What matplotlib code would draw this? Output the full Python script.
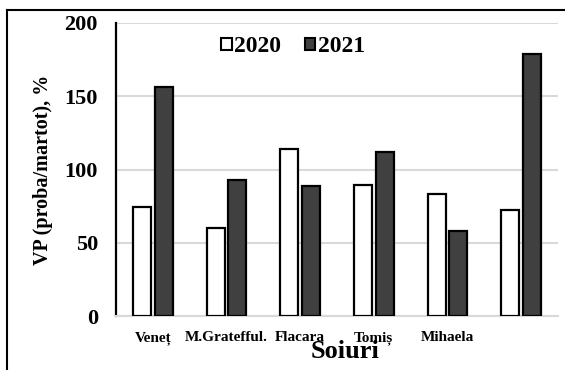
import matplotlib
matplotlib.use("Agg")
import matplotlib.pyplot as plt
import numpy as np
from matplotlib.lines import Line2D

plt.rcParams['font.family'] = ['Liberation Serif', 'DejaVu Serif']
plt.rcParams['font.weight'] = 'bold'

soiuri = ['Veneț', 'M.Gratefful.', 'Flacara', 'Tomiș', 'Mihaela', '']
vp_2020 = [74.5, 60, 113.8, 89.3, 83.3, 72.4]
vp_2021 = [156, 93, 88.5, 111.7, 58, 178.5]
ani = ['2020', '2021']

W, H = 565, 370
fig = plt.figure(figsize=(W / 100, H / 100), dpi=100)
ax = fig.add_axes([116 / W, 1 - 316 / H, 442 / W, 293 / H])

x = np.arange(len(soiuri))
bw = 0.245
off = 0.146
ax.bar(x - off, vp_2020, bw, color='white', edgecolor='black', linewidth=1.6, label=ani[0], zorder=3)
ax.bar(x + off, vp_2021, bw, color='#404040', edgecolor='black', linewidth=1.6, label=ani[1], zorder=3)

ax.set_xlim(-0.5, len(soiuri) - 0.5)
ax.set_ylim(0, 200)
ax.set_yticks([0, 50, 100, 150, 200])
ax.yaxis.grid(True, color='#d9d9d9', linewidth=1.5, zorder=0)
ax.set_axisbelow(True)

ax.set_xticks(x)
ax.set_xticklabels(soiuri, fontsize=11, fontweight='bold')
ax.tick_params(axis='x', length=0, pad=11)
ax.tick_params(axis='y', length=0, pad=13, labelsize=16)
for t in ax.get_yticklabels():
    t.set_fontweight('bold')

for s in ['top', 'right']:
    ax.spines[s].set_visible(False)
ax.spines['left'].set_color('black')
ax.spines['left'].set_linewidth(1.6)
ax.spines['bottom'].set_color('#d9d9d9')
ax.spines['bottom'].set_linewidth(1.5)

leg = ax.legend(ncol=2, loc='center', bbox_to_anchor=((293 - 116) / 442, (316 - 47) / 293),
                frameon=False, fontsize=17, handlelength=0.45, handleheight=0.45,
                handletextpad=0.1, columnspacing=1.0, borderpad=0)
for h in leg.legend_handles:
    h.set_linewidth(1.5)

fig.text(43 / W, 1 - 170 / H, 'VP (proba/martot), %', rotation=90, ha='center', va='center',
         fontsize=14.5, fontweight='bold')
fig.text(345 / W, 1 - 351 / H, 'Soiuri', ha='center', va='center', fontsize=19, fontweight='bold')

# chenar exterior (doar stanga si sus)
fig.add_artist(Line2D([7 / W, 7 / W], [0, 1 - 10 / H], color='black', linewidth=1.5, transform=fig.transFigure))
fig.add_artist(Line2D([7 / W, 1], [1 - 10 / H, 1 - 10 / H], color='black', linewidth=1.5, transform=fig.transFigure))

fig.savefig('out.png', dpi=100)
